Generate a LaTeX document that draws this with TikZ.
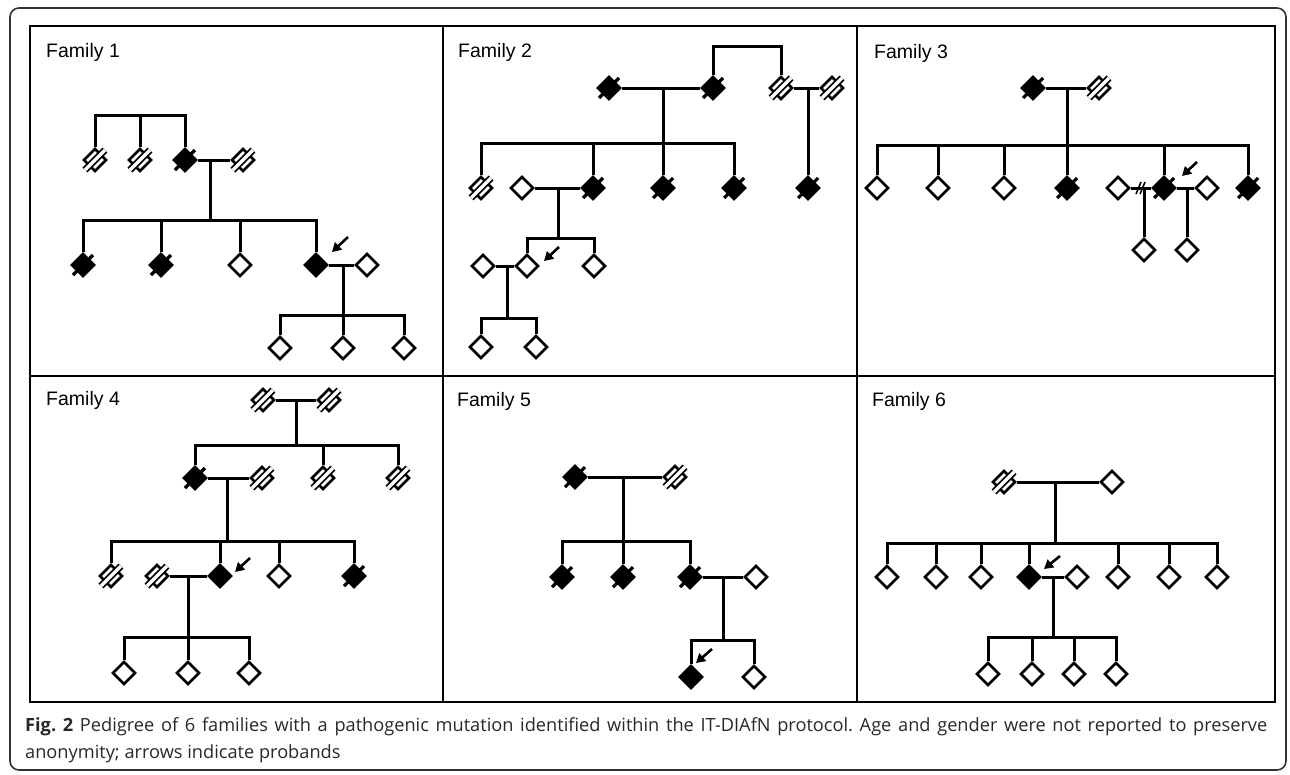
\documentclass[tikz,border=0pt]{standalone}
\usepackage{fontspec}
\setmainfont{Liberation Sans}
\newfontfamily\capfont{Open Sans}
\usepackage{tikz}
\usetikzlibrary{shapes.geometric, arrows.meta, calc}
\definecolor{myframe}{RGB}{50,50,50}
\definecolor{mytext}{RGB}{40,40,40}
\tikzset{
  person/.style={diamond, draw=black, fill=white, line width=2.6pt,
    minimum width=23pt, minimum height=23pt, inner sep=0pt},
  affected/.style={person, fill=black},
  line/.style={line width=3pt, color=black},
  panel/.style={line width=2.2pt, color=black},
  sepmark/.style={line width=1.6pt, color=black},
  proband/.style={-{Triangle[length=9pt,width=10pt]}, line width=2.6pt},
  famlabel/.style={anchor=base west, inner sep=0pt, font=\fontsize{19.5}{23}\selectfont},
  pics/deadopen/.style={code={\draw[line width=1.7pt, double=white, double distance=3.4pt] (-10,10) -- (10,-10);}},
  pics/deadfill/.style={code={\draw[line width=3.2pt] (-10,10) -- (10,-10);}}
}
\begin{document}
\begin{tikzpicture}[x=1pt, y=-1pt]
  \useasboundingbox (0,0) rectangle (1290,774);
  % Frame and panels
  \draw[rounded corners=9pt, line width=1.6pt, color=myframe] (10,8) rectangle (1286,770);
  \draw[panel] (30,26) rectangle (1275,702);
  \draw[panel] (443,26) -- (443,702);
  \draw[panel] (857,26) -- (857,702);
  \draw[panel] (30,376) -- (1275,376);

  % Family labels
  \node[famlabel] (l1) at (46,57) {Family 1};
  \node[famlabel] (l2) at (458,57) {Family 2};
  \node[famlabel] (l3) at (874,58) {Family 3};
  \node[famlabel] (l4) at (46,405) {Family 4};
  \node[famlabel] (l5) at (457,406) {Family 5};
  \node[famlabel] (l6) at (872,406) {Family 6};

  % Family 1
  \node[person] (f1a) at (95,160) {};
  \node[person] (f1b) at (140,160) {};
  \node[affected] (f1c) at (185,160) {};
  \node[person] (f1d) at (243,160) {};
  \node[affected] (f1e) at (83,265) {};
  \node[affected] (f1f) at (161,265) {};
  \node[person] (f1g) at (240,265) {};
  \node[affected] (f1h) at (316,265) {};
  \node[person] (f1i) at (367,265) {};
  \node[person] (f1j) at (280,348) {};
  \node[person] (f1k) at (343,348) {};
  \node[person] (f1l) at (404,348) {};
  \coordinate (f1t) at (140,115);
  \coordinate (f1m1) at (210,160);
  \coordinate (f1s1) at (210,220);
  \coordinate (f1m2) at (343,265);
  \coordinate (f1s2) at (343,315);
  \draw[line] (f1a.north) |- (f1t) -| (f1c.north);
  \draw[line] (f1b.north) -- (f1t);
  \draw[line] (f1c) -- (f1d);
  \draw[line] (f1m1) -- (f1s1);
  \draw[line] (f1e.north) |- (f1s1) -| (f1h.north);
  \foreach \c in {f1f,f1g} \draw[line] (\c.north) -- (\c.north |- f1s1);
  \draw[line] (f1h) -- (f1i);
  \draw[line] (f1m2) -- (f1s2);
  \draw[line] (f1j.north) |- (f1s2) -| (f1l.north);
  \draw[line] (f1k.north) -- (f1s2);
  \foreach \p in {f1a,f1b,f1d} \pic at (\p) {deadopen};
  \foreach \p in {f1c,f1e,f1f} \pic at (\p) {deadfill};
  \draw[proband] ([shift={(32,-28)}]f1h.center) -- ++(-16,15);

  % Family 2
  \node[affected] (f2a) at (609,88) {};
  \node[affected] (f2b) at (713,88) {};
  \node[person] (f2c) at (781,88) {};
  \node[person] (f2d) at (832,88) {};
  \node[affected] (f2e) at (808,188) {};
  \node[person] (f2f) at (481,188) {};
  \node[person] (f2g) at (522,188) {};
  \node[affected] (f2h) at (593,188) {};
  \node[affected] (f2i) at (663,188) {};
  \node[affected] (f2j) at (734,188) {};
  \node[person] (f2k) at (483,266) {};
  \node[person] (f2l) at (527,266) {};
  \node[person] (f2m) at (594,266) {};
  \node[person] (f2n) at (481,347) {};
  \node[person] (f2o) at (536,347) {};
  \coordinate (f2t) at (747,46);
  \coordinate (f2m1) at (663,88);
  \coordinate (f2s1) at (663,143);
  \coordinate (f2m2) at (808,88);
  \coordinate (f2m3) at (558,188);
  \coordinate (f2s3) at (558,238);
  \coordinate (f2m4) at (507,266);
  \coordinate (f2s4) at (507,318);
  \draw[line] (f2b.north) |- (f2t) -| (f2c.north);
  \draw[line] (f2a) -- (f2b);
  \draw[line] (f2m1) -- (f2s1);
  \draw[line] (f2c) -- (f2d);
  \draw[line] (f2m2) -- (f2e);
  \draw[line] (f2f.north) |- (f2s1) -| (f2j.north);
  \foreach \c in {f2h,f2i} \draw[line] (\c.north) -- (\c.north |- f2s1);
  \draw[line] (f2g) -- (f2h);
  \draw[line] (f2m3) -- (f2s3);
  \draw[line] (f2l.north) |- (f2s3) -| (f2m.north);
  \draw[line] (f2k) -- (f2l);
  \draw[line] (f2m4) -- (f2s4);
  \draw[line] (f2n.north) |- (f2s4) -| (f2o.north);
  \foreach \p in {f2c,f2d,f2f} \pic at (\p) {deadopen};
  \foreach \p in {f2a,f2b,f2e,f2h,f2i,f2j} \pic at (\p) {deadfill};
  \draw[proband] ([shift={(32,-19)}]f2l.center) -- ++(-15,14);

  % Family 3
  \node[affected] (f3a) at (1033,88) {};
  \node[person] (f3b) at (1099,88) {};
  \node[person] (f3c) at (877,188) {};
  \node[person] (f3d) at (938,188) {};
  \node[person] (f3e) at (1004,188) {};
  \node[affected] (f3f) at (1067,188) {};
  \node[person] (f3g) at (1118,188) {};
  \node[affected] (f3h) at (1164,188) {};
  \node[person] (f3i) at (1207,188) {};
  \node[affected] (f3j) at (1248,188) {};
  \node[person] (f3k) at (1144,250) {};
  \node[person] (f3l) at (1187,250) {};
  \coordinate (f3m1) at (1067,88);
  \coordinate (f3s1) at (1067,145);
  \coordinate (f3m2) at (1144,188);
  \coordinate (f3m3) at (1187,188);
  \draw[line] (f3a) -- (f3b);
  \draw[line] (f3m1) -- (f3s1);
  \draw[line] (f3c.north) |- (f3s1) -| (f3j.north);
  \foreach \c in {f3d,f3e,f3f,f3h} \draw[line] (\c.north) -- (\c.north |- f3s1);
  \draw[line] (f3g) -- (f3h);
  \draw[line] (f3h) -- (f3i);
  \draw[line] (f3m2) -- (f3k);
  \draw[line] (f3m3) -- (f3l);
  \draw[sepmark] ($(f3m2)+(-8,6)$) -- ++(5,-12);
  \draw[sepmark] ($(f3m2)+(-4,6)$) -- ++(5,-12);
  \foreach \p in {f3b} \pic at (\p) {deadopen};
  \foreach \p in {f3a,f3f,f3h,f3j} \pic at (\p) {deadfill};
  \draw[proband] ([shift={(33,-26)}]f3h.center) -- ++(-15,14);

  % Family 4
  \node[person] (f4a) at (263,400) {};
  \node[person] (f4b) at (329,400) {};
  \node[affected] (f4c) at (195,478) {};
  \node[person] (f4d) at (262,478) {};
  \node[person] (f4e) at (323,478) {};
  \node[person] (f4f) at (398,478) {};
  \node[person] (f4g) at (111,576) {};
  \node[person] (f4h) at (157,576) {};
  \node[affected] (f4i) at (220,576) {};
  \node[person] (f4j) at (279,576) {};
  \node[affected] (f4k) at (354,576) {};
  \node[person] (f4l) at (124,673) {};
  \node[person] (f4m) at (188,673) {};
  \node[person] (f4n) at (249,673) {};
  \coordinate (f4m1) at (296,400);
  \coordinate (f4s1) at (296,445);
  \coordinate (f4m2) at (227,478);
  \coordinate (f4s2) at (227,541);
  \coordinate (f4m3) at (188,576);
  \coordinate (f4s3) at (188,637);
  \draw[line] (f4a) -- (f4b);
  \draw[line] (f4m1) -- (f4s1);
  \draw[line] (f4c.north) |- (f4s1) -| (f4f.north);
  \draw[line] (f4e.north) -- (f4e.north |- f4s1);
  \draw[line] (f4c) -- (f4d);
  \draw[line] (f4m2) -- (f4s2);
  \draw[line] (f4g.north) |- (f4s2) -| (f4k.north);
  \foreach \c in {f4i,f4j} \draw[line] (\c.north) -- (\c.north |- f4s2);
  \draw[line] (f4h) -- (f4i);
  \draw[line] (f4m3) -- (f4s3);
  \draw[line] (f4l.north) |- (f4s3) -| (f4n.north);
  \draw[line] (f4m.north) -- (f4s3);
  \foreach \p in {f4a,f4b,f4d,f4e,f4f,f4g,f4h} \pic at (\p) {deadopen};
  \foreach \p in {f4c,f4k} \pic at (\p) {deadfill};
  \draw[proband] ([shift={(30,-18)}]f4i.center) -- ++(-15,14);

  % Family 5
  \node[affected] (f5a) at (575,477) {};
  \node[person] (f5b) at (675,477) {};
  \node[affected] (f5c) at (562,577) {};
  \node[affected] (f5d) at (623,577) {};
  \node[affected] (f5e) at (690,577) {};
  \node[person] (f5f) at (756,577) {};
  \node[affected] (f5g) at (691,677) {};
  \node[person] (f5h) at (754,677) {};
  \coordinate (f5m1) at (623,477);
  \coordinate (f5s1) at (623,541);
  \coordinate (f5m2) at (723,577);
  \coordinate (f5s2) at (723,640);
  \draw[line] (f5a) -- (f5b);
  \draw[line] (f5m1) -- (f5s1);
  \draw[line] (f5c.north) |- (f5s1) -| (f5e.north);
  \draw[line] (f5d.north) -- (f5s1);
  \draw[line] (f5e) -- (f5f);
  \draw[line] (f5m2) -- (f5s2);
  \draw[line] (f5g.north) |- (f5s2) -| (f5h.north);
  \foreach \p in {f5b} \pic at (\p) {deadopen};
  \foreach \p in {f5a,f5c,f5d,f5e} \pic at (\p) {deadfill};
  \draw[proband] ([shift={(21,-28)}]f5g.center) -- ++(-16,14);

  % Family 6
  \node[person] (f6a) at (1004,482) {};
  \node[person] (f6b) at (1112,482) {};
  \node[person] (f6c) at (887,577) {};
  \node[person] (f6d) at (936,577) {};
  \node[person] (f6e) at (981,577) {};
  \node[affected] (f6f) at (1029,577) {};
  \node[person] (f6g) at (1077,577) {};
  \node[person] (f6h) at (1118,577) {};
  \node[person] (f6i) at (1169,577) {};
  \node[person] (f6j) at (1217,577) {};
  \node[person] (f6k) at (988,674) {};
  \node[person] (f6l) at (1032,674) {};
  \node[person] (f6m) at (1074,674) {};
  \node[person] (f6n) at (1116,674) {};
  \coordinate (f6m1) at (1055,482);
  \coordinate (f6s1) at (1055,543);
  \coordinate (f6m2) at (1053,577);
  \coordinate (f6s2) at (1053,637);
  \draw[line] (f6a) -- (f6b);
  \draw[line] (f6m1) -- (f6s1);
  \draw[line] (f6c.north) |- (f6s1) -| (f6j.north);
  \foreach \c in {f6d,f6e,f6f,f6h,f6i} \draw[line] (\c.north) -- (\c.north |- f6s1);
  \draw[line] (f6f) -- (f6g);
  \draw[line] (f6m2) -- (f6s2);
  \draw[line] (f6k.north) |- (f6s2) -| (f6n.north);
  \foreach \c in {f6l,f6m} \draw[line] (\c.north) -- (\c.north |- f6s2);
  \foreach \p in {f6a} \pic at (\p) {deadopen};
  \draw[proband] ([shift={(31,-21)}]f6f.center) -- ++(-16,13);

  % Caption
  \node[anchor=north west, inner sep=0pt, text width=1242pt, align=justify,
    font=\capfont\fontsize{18.2}{27}\selectfont\frenchspacing, text=mytext] (cap) at (25,717)
    {\textbf{Fig. 2} Pedigree of 6 families with a pathogenic mutation identified within the IT-DIAfN protocol. Age and gender were not reported to preserve\linebreak anonymity; arrows indicate probands};
\end{tikzpicture}
\end{document}
